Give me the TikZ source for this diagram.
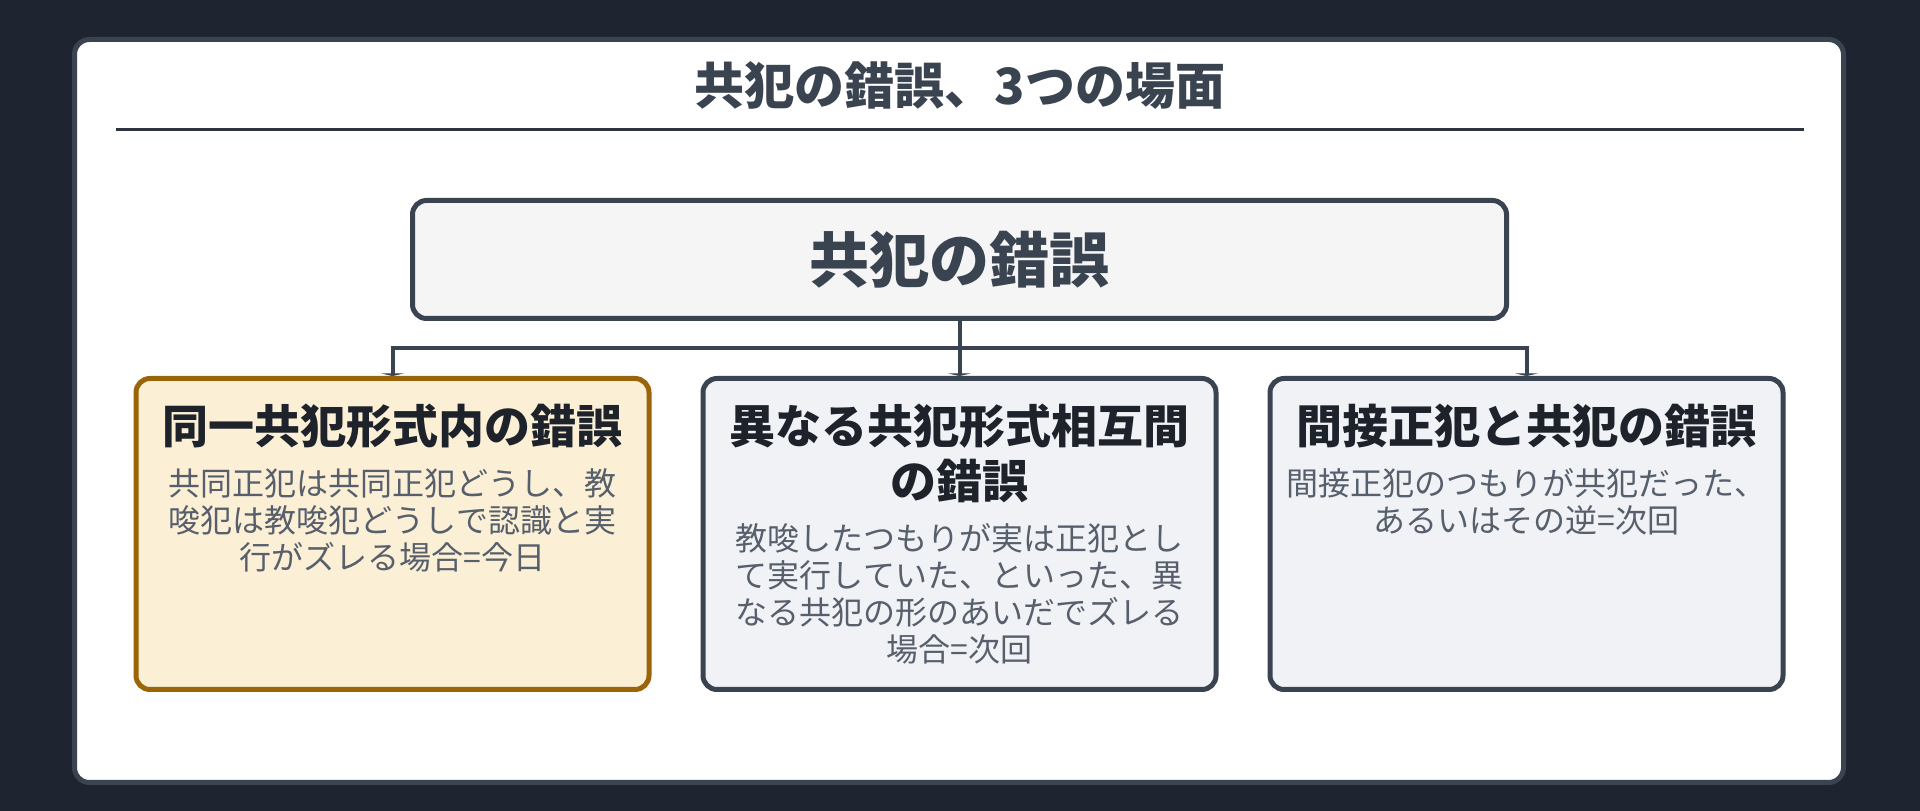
\documentclass[tikz,border=0pt]{standalone}
\usepackage{fontspec}
\setmainfont{Noto Sans CJK JP}
\usepackage{tikz}
\usetikzlibrary{positioning}
\usetikzlibrary{arrows.meta}

\definecolor{pagebg}{HTML}{1E2530}
\definecolor{slate}{HTML}{3A4350}
\definecolor{ruleline}{HTML}{2D3440}
\definecolor{ink}{HTML}{1E232B}
\definecolor{muted}{HTML}{565F6B}
\definecolor{rootfill}{HTML}{F5F5F5}
\definecolor{cardfill}{HTML}{F0F2F6}
\definecolor{hilite}{HTML}{FBF0D6}
\definecolor{hiliteline}{HTML}{996508}

\begin{document}
\begin{tikzpicture}[x=1pt,y=1pt,
    root node/.style={rectangle,rounded corners=14pt,draw=slate,line width=5pt,fill=rootfill,
      minimum width=1094pt,minimum height=118pt,text=slate,font=\bfseries\fontsize{60}{70}\selectfont},
    scene node/.style={rectangle,rounded corners=14pt,draw=slate,line width=5pt,fill=cardfill,
      minimum width=513pt,minimum height=311pt},
    title text/.style={inner sep=0pt,align=center,text=ink,font=\bfseries\fontsize{46}{55}\selectfont},
    body text/.style={inner sep=0pt,align=center,text=muted,font=\fontsize{32}{37}\selectfont},
    link/.style={-{Triangle[width=22pt,length=2.5pt]},draw=slate,line width=4pt}]

  % page and card
  \fill[pagebg] (0,0) rectangle (1920,811);
  \draw[slate,line width=5pt,fill=white,rounded corners=15pt] (74.5,28.5) rectangle (1843.5,771.5);
  \node[text=slate,font=\bfseries\fontsize{50}{60}\selectfont] (heading) at (960,726) {共犯の錯誤、3つの場面};
  \draw[ruleline,line width=3pt] (116,681) -- (1804,681);

  \node[root node] (root) at (959.5,551.5) {共犯の錯誤};
  \node[scene node] (cross) [below=55pt of root] {};
  \node[scene node,fill=hilite,draw=hiliteline] (same) [left=49pt of cross] {};
  \node[scene node] (indirect) [right=49pt of cross] {};

  \node[title text] (same title) [below=28pt of same.north] {同一共犯形式内の錯誤};
  \node[body text] (same body) [below=20pt of same title]
    {共同正犯は共同正犯どうし、教\\唆犯は教唆犯どうしで認識と実\\行がズレる場合=今日};

  \node[title text] (cross title) [below=28pt of cross.north] {異なる共犯形式相互間\\の錯誤};
  \node[body text] (cross body) [below=20pt of cross title]
    {教唆したつもりが実は正犯とし\\て実行していた、といった、異\\なる共犯の形のあいだでズレる\\場合=次回};

  \node[title text] (indirect title) [below=28pt of indirect.north] {間接正犯と共犯の錯誤};
  \node[body text] (indirect body) [below=20pt of indirect title]
    {間接正犯のつもりが共犯だった、\\あるいはその逆=次回};

  \coordinate[below=27pt of root.south] (fork);
  \draw[link] (root.south) -- (fork) -| (same.north);
  \draw[link] (fork) -- (cross.north);
  \draw[link] (fork) -| (indirect.north);
\end{tikzpicture}
\end{document}
